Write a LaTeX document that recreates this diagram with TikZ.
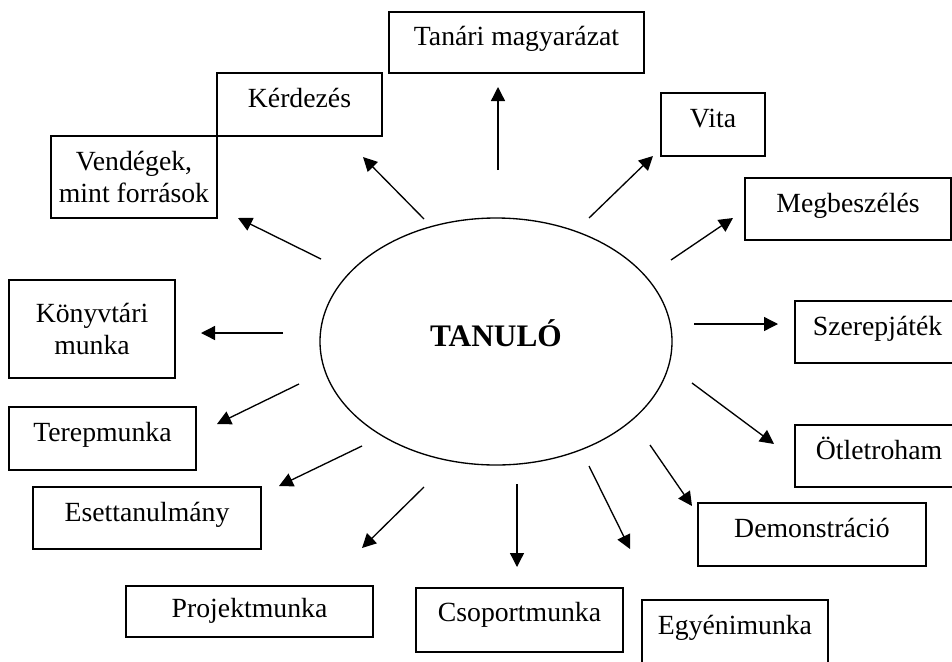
\documentclass[tikz,border=0pt]{standalone}
\usepackage{fontspec}
\setmainfont{Liberation Serif}
\usetikzlibrary{arrows.meta,shapes.geometric}

\begin{document}
\begin{tikzpicture}[x=0.75pt,y=-0.75pt,line width=1pt,%
    >={Triangle[length=10.5pt,width=10.5pt]},
    box/.style={draw,rectangle,inner sep=2pt,align=center,
      font=\fontsize{20.8}{24}\selectfont},
    one/.style={text height=.75em,text depth=.3em}]
    \useasboundingbox (0,0) rectangle (952,661);

    % kozepso ellipszis
    \node[draw,ellipse,minimum width=264pt,minimum height=185.25pt,
      text height=.9em,text depth=.15em,
      font=\fontsize{23.5}{27}\selectfont\bfseries] (tanulo) at (496,341.5) {TANULÓ};

    % modszerek
    \node[box,one,minimum width=191.25pt,minimum height=45.75pt] (tanari)  at (516.5,42.5) {Tanári magyarázat};
    \node[box,one,minimum width=123.75pt,minimum height=47.25pt] (kerdez)  at (299.5,104.5) {Kérdezés};
    \node[box,minimum width=124.5pt,minimum height=61.5pt]       (vendeg)  at (134,177) {Vendégek,\\mint források};
    \node[box,one,minimum width=78pt,minimum height=47.25pt]     (vita)    at (713,124.5) {Vita};
    \node[box,one,minimum width=154.5pt,minimum height=46.5pt]   (megbesz) at (848,209) {Megbeszélés};
    \node[box,one,minimum width=123.75pt,minimum height=46.5pt]  (szerep)  at (877.5,332) {Szerepjáték};
    \node[box,minimum width=124.5pt,minimum height=73.5pt]       (konyv)   at (92,329) {Könyvtári\\munka};
    \node[box,one,minimum width=140.25pt,minimum height=47.25pt] (terep)   at (102.5,438.5) {Terepmunka};
    \node[box,one,minimum width=126pt,minimum height=46.5pt]     (otlet)   at (879,456) {Ötletroham};
    \node[box,one,minimum width=171pt,minimum height=46.5pt]     (esett)   at (147,518) {Esettanulmány};
    \node[box,one,minimum width=171pt,minimum height=47.25pt]    (demon)   at (812,534.5) {Demonstráció};
    \node[box,text height=1.1em,text depth=.2em,
      minimum width=185.25pt,minimum height=38.25pt]             (projekt) at (249.5,611.5) {Projektmunka};
    \node[box,text height=.75em,text depth=.55em,
      minimum width=155.25pt,minimum height=48pt]                (csoport) at (519.5,620) {Csoportmunka};
    \node[box,one,minimum width=139.5pt,minimum height=47.25pt]  (egyeni)  at (735,631.5) {Egyénimunka};

    % nyilak vegpontjai
    \coordinate (s_1)  at (498,170);  \coordinate (e_1)  at (498,87);
    \coordinate (s_2)  at (424,219);  \coordinate (e_2)  at (363,157);
    \coordinate (s_3)  at (321,259);  \coordinate (e_3)  at (238,218);
    \coordinate (s_4)  at (589,218);  \coordinate (e_4)  at (653,156);
    \coordinate (s_5)  at (671,260);  \coordinate (e_5)  at (733,218);
    \coordinate (s_6)  at (694,324);  \coordinate (e_6)  at (778,324);
    \coordinate (s_7)  at (283,333);  \coordinate (e_7)  at (201,333);
    \coordinate (s_8)  at (299,384);  \coordinate (e_8)  at (217,424);
    \coordinate (s_9)  at (692,383);  \coordinate (e_9)  at (774,444);
    \coordinate (s_10) at (362,446);  \coordinate (e_10) at (279,486);
    \coordinate (s_11) at (424,487);  \coordinate (e_11) at (362,548);
    \coordinate (s_12) at (517,484);  \coordinate (e_12) at (517,567);
    \coordinate (s_13) at (589,466);  \coordinate (e_13) at (630,549);
    \coordinate (s_14) at (650,445);  \coordinate (e_14) at (692,506);

    \foreach \i in {1,...,14}
        \draw[->] (s_\i) -- (e_\i);
\end{tikzpicture}
\end{document}
